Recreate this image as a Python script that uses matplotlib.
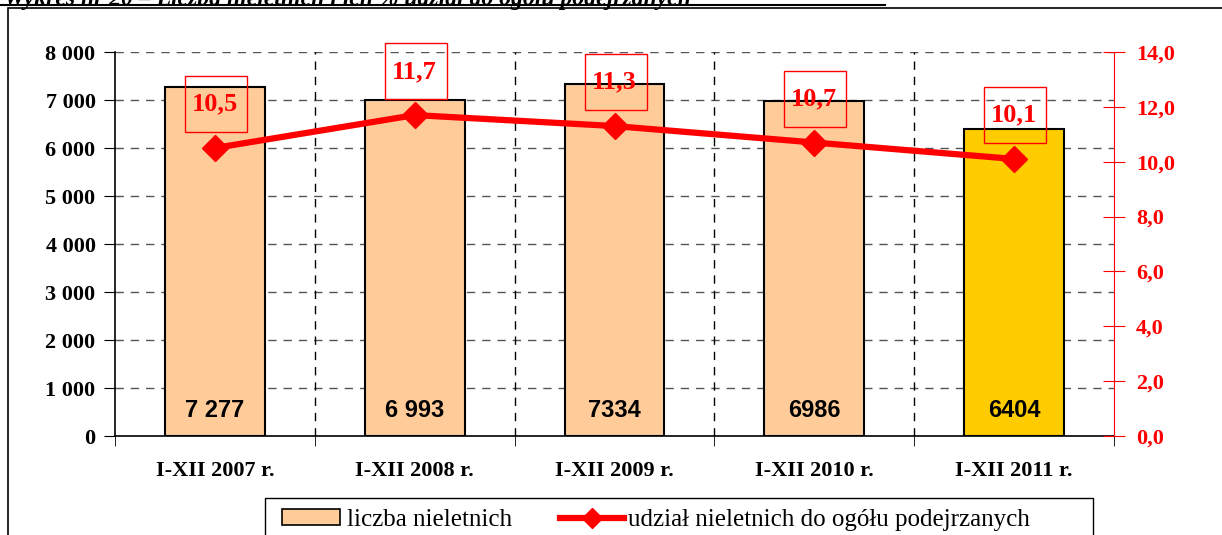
import numpy as np
import matplotlib
matplotlib.use('Agg')
import matplotlib.pyplot as plt
from matplotlib.patches import Rectangle, Patch
from matplotlib.lines import Line2D
from matplotlib.transforms import ScaledTranslation

categories = ['I-XII 2007 r.', 'I-XII 2008 r.', 'I-XII 2009 r.', 'I-XII 2010 r.', 'I-XII 2011 r.']
counts = [7277, 6993, 7334, 6986, 6404]
count_labels = ['7 277', '6 993', '7334', '6986', '6404']
shares = [10.5, 11.7, 11.3, 10.7, 10.1]
left_ticks = [0, 1000, 2000, 3000, 4000, 5000, 6000, 7000, 8000]
left_ticklabels = ['0', '1 000', '2 000', '3 000', '4 000', '5 000', '6 000', '7 000', '8 000']
right_ticks = [0, 2, 4, 6, 8, 10, 12, 14]

serif = 'Liberation Serif'
sans = 'Liberation Sans'
bar_colors = ['#FFCC99'] * 4 + ['#FFCC00']

fig = plt.figure(figsize=(12.22, 5.35), dpi=100)
ax1 = fig.add_axes([115/1222, 99/535, 999/1222, 384/535])
ax2 = ax1.twinx()

x = np.arange(len(categories))

# bars
ax1.bar(x, counts, width=0.5, color=bar_colors, edgecolor='black', linewidth=1.5, zorder=3)
for xi, lab in zip(x, count_labels):
    ax1.text(xi, 540, lab, ha='center', va='center', fontsize=17, fontweight='bold',
             family=sans, zorder=4)

ax1.set_xlim(-0.5, len(categories) - 0.5)
ax1.set_ylim(0, 8000)
ax1.set_yticks(left_ticks)
ax1.set_yticklabels(left_ticklabels, family=serif, fontsize=16, fontweight='bold')
ax1.set_xticks(x)
ax1.set_xticklabels(categories, family=serif, fontsize=16, fontweight='bold')
ax1.set_xticks(np.arange(-0.5, len(categories)), minor=True)
ax1.tick_params(axis='x', which='major', length=0, pad=18)
ax1.tick_params(axis='x', which='minor', length=7, direction='out')
ax1.tick_params(axis='y', length=8, direction='out', pad=6)

for yv in left_ticks[1:]:
    ax1.axhline(yv, color='#555555', linestyle=(0, (6, 5)), linewidth=1, zorder=1)
for xv in np.arange(0.5, len(categories) - 1):
    ax1.axvline(xv, color='black', linestyle=(0, (6, 5)), linewidth=1, zorder=1)

ax1.spines['top'].set_visible(False)
ax1.spines['right'].set_visible(False)
ax1.spines['left'].set_linewidth(1.2)
ax1.spines['bottom'].set_linewidth(1.2)

# line on secondary axis
ax2.plot(x, shares, color='red', linewidth=4.5, marker='D', markersize=13, zorder=5)
ax2.set_ylim(0, 14)
ax2.set_yticks(right_ticks)
ax2.set_yticklabels([('%.1f' % v).replace('.', ',') for v in right_ticks], family=serif,
                    fontsize=16, fontweight='bold', color='red')
ax2.tick_params(axis='y', colors='red', direction='inout', length=16, pad=8)
for t in ax2.get_yticklabels():
    t.set_color('red')
ax2.spines['right'].set_color('red')
ax2.spines['top'].set_visible(False)
ax2.spines['left'].set_visible(False)
ax2.spines['bottom'].set_visible(False)

# value boxes above the markers (sizes in pixels)
for xi, v in zip(x, shares):
    ax2.annotate(('%.1f' % v).replace('.', ','), (xi, v), xytext=(0, 31.5),
                 textcoords='offset points', ha='center', va='center', color='red',
                 fontsize=19, fontweight='bold', family=serif, zorder=6)
    ax2.add_patch(Rectangle((-30, 16), 62, 56, fill=False, edgecolor='red', linewidth=1,
                            transform=ScaledTranslation(xi, v, ax2.transData), zorder=6,
                            clip_on=False))

ax1.set_zorder(1)
ax2.set_zorder(2)
ax1.patch.set_visible(False)

# legend: two entries placed separately inside one frame
leg_y = 1 - 520/535
leg1 = fig.legend([Patch(facecolor='#FFCC99', edgecolor='black', linewidth=1.2)],
                  ['liczba nieletnich'], loc='center left', bbox_to_anchor=(282/1222, leg_y),
                  frameon=False, borderpad=0, borderaxespad=0, handlelength=2.3,
                  handleheight=0.6, handletextpad=0.3, prop={'family': serif, 'size': 18})
leg2 = fig.legend([Line2D([0], [0], color='red', linewidth=4.5, marker='D', markersize=10)],
                  ['udział nieletnich do ogółu podejrzanych'], loc='center left',
                  bbox_to_anchor=(560/1222, leg_y), frameon=False, borderpad=0,
                  borderaxespad=0, handlelength=2.55, handletextpad=0.15,
                  prop={'family': serif, 'size': 18})
fig.patches.append(Rectangle((265/1222, -0.1), (1093 - 265)/1222, 0.1 + 1 - 498/535,
                             transform=fig.transFigure, fill=False, edgecolor='black',
                             linewidth=1))

# outer frame and clipped title
fig.patches.append(Rectangle((8/1222, -0.1), 1.2, 1.1 - 8/535, transform=fig.transFigure,
                             fill=False, edgecolor='black', linewidth=1.2))
fig.text(4/1222, 1.0, 'Wykres nr 20 – Liczba nieletnich i ich % udział do ogółu podejrzanych',
         ha='left', va='center', fontsize=17, fontweight='bold', style='italic', family=serif)
fig.add_artist(Line2D([0, 885/1222], [1 - 5/535, 1 - 5/535], color='black', linewidth=1.5,
                      transform=fig.transFigure))

fig.savefig('out.png', dpi=100)
